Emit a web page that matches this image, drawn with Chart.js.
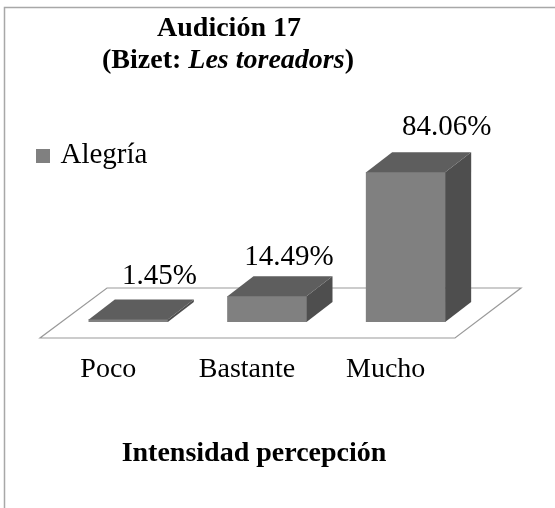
<!DOCTYPE html>
<html lang="es">
<head>
<meta charset="utf-8">
<style>
html,body{margin:0;padding:0;background:#fff}
#wrap{width:555px;height:508px;position:relative}
canvas{display:block;filter:blur(0.45px)}
</style>
<script src="https://cdn.jsdelivr.net/npm/chart.js@4/dist/chart.umd.min.js"></script>
</head>
<body>
<div id="wrap"><canvas id="c" width="555" height="508"></canvas></div>
<script>
const categories = ["Poco", "Bastante", "Mucho"];
const seriesName = "Alegría";
const values = [1.45, 14.49, 84.06];
const axisTitle = "Intensidad percepción";
const titleLine1 = "Audición 17";
const titleLine2 = ["(Bizet: ", "Les toreadors", ")"];
const labelNudgeX = [31, 22, 41];
const labelNudgeY = [35, 31, 37];

const SERIF = '"Liberation Serif", "Times New Roman", serif';
const FRONT = "#808080", TOP = "#5e5e5e", SIDE = "#4e4e4e", INK = "#000000";
const DX = 26, DY = 20;

const swatch = document.createElement("canvas");
swatch.width = 14; swatch.height = 14;
const sctx = swatch.getContext("2d");
sctx.fillStyle = FRONT; sctx.fillRect(0, 0, 14, 14);

function poly(ctx, pts, fill, stroke) {
  ctx.beginPath();
  pts.forEach((p, i) => i ? ctx.lineTo(p[0], p[1]) : ctx.moveTo(p[0], p[1]));
  ctx.closePath();
  if (fill) { ctx.fillStyle = fill; ctx.fill(); }
  if (stroke) { ctx.strokeStyle = stroke; ctx.lineWidth = 1.2; ctx.stroke(); }
}

const scene = {
  id: "scene",
  beforeDraw(chart) {
    const ctx = chart.ctx, base = chart.scales.y.getPixelForValue(0);
    ctx.save();
    ctx.fillStyle = "#fff";
    ctx.fillRect(0, 0, chart.width, chart.height);
    ctx.strokeStyle = "#a8a8a8";
    ctx.lineWidth = 1.5;
    ctx.beginPath();
    ctx.moveTo(4.5, 508); ctx.lineTo(4.5, 7.5); ctx.lineTo(555, 7.5);
    ctx.stroke();
    poly(ctx, [[40, base + 16], [455, base + 16], [521, base - 34], [107, base - 34]], "#fff", "#9a9a9a");
    ctx.restore();
    chart.legend.left = 30; chart.legend.right = 200;
    chart.legend.top = 131; chart.legend.bottom = 180;
  },
  afterDatasetsDraw(chart) {
    const ctx = chart.ctx;
    ctx.save();
    chart.getDatasetMeta(0).data.forEach((bar, i) => {
      const p = bar.getProps(["x", "y", "base", "width"], true);
      const l = p.x - p.width / 2, r = p.x + p.width / 2;
      poly(ctx, [[r, p.y], [r + DX, p.y - DY], [r + DX, p.base - DY], [r, p.base]], SIDE);
      poly(ctx, [[l, p.y], [r, p.y], [r + DX, p.y - DY], [l + DX, p.y - DY]], TOP);
      ctx.font = "29px " + SERIF;
      ctx.fillStyle = INK;
      ctx.textAlign = "center";
      ctx.textBaseline = "alphabetic";
      ctx.fillText(values[i].toFixed(2) + "%", p.x + labelNudgeX[i], p.y - labelNudgeY[i]);
    });
    ctx.textBaseline = "alphabetic";
    ctx.textAlign = "center";
    ctx.fillStyle = INK;
    ctx.font = "bold 28px " + SERIF;
    ctx.fillText(titleLine1, 229, 36);
    const fonts = ["bold 28px " + SERIF, "italic bold 28px " + SERIF, "bold 28px " + SERIF];
    let w = 0;
    titleLine2.forEach((t, i) => { ctx.font = fonts[i]; w += ctx.measureText(t).width; });
    let x = 228 - w / 2;
    ctx.textAlign = "left";
    titleLine2.forEach((t, i) => { ctx.font = fonts[i]; ctx.fillText(t, x, 68); x += ctx.measureText(t).width; });
    ctx.textAlign = "center";
    ctx.font = "bold 28px " + SERIF;
    ctx.fillText(axisTitle, 254, 461);
    ctx.restore();
  }
};

new Chart(document.getElementById("c"), {
  type: "bar",
  data: {
    labels: categories,
    datasets: [{ label: seriesName, data: values, backgroundColor: FRONT, borderWidth: 0, barThickness: 79 }]
  },
  options: {
    responsive: false,
    animation: false,
    layout: { padding: { left: 59, right: 80, top: 144, bottom: 0 } },
    plugins: {
      tooltip: { enabled: false },
      legend: {
        display: true,
        position: "chartArea",
        align: "start",
        labels: { usePointStyle: true, pointStyle: swatch, pointStyleWidth: 6, boxHeight: 14, padding: 10, color: INK, font: { family: SERIF, size: 29 } }
      }
    },
    scales: {
      y: { display: false, min: 0, max: 100 },
      x: {
        afterFit(s) { s.height = 186; },
        grid: { display: false, drawTicks: false },
        border: { display: false },
        ticks: { color: INK, font: { family: SERIF, size: 28 }, padding: 31, labelOffset: -20, maxRotation: 0, autoSkip: false }
      }
    }
  },
  plugins: [scene]
});
</script>
</body>
</html>
